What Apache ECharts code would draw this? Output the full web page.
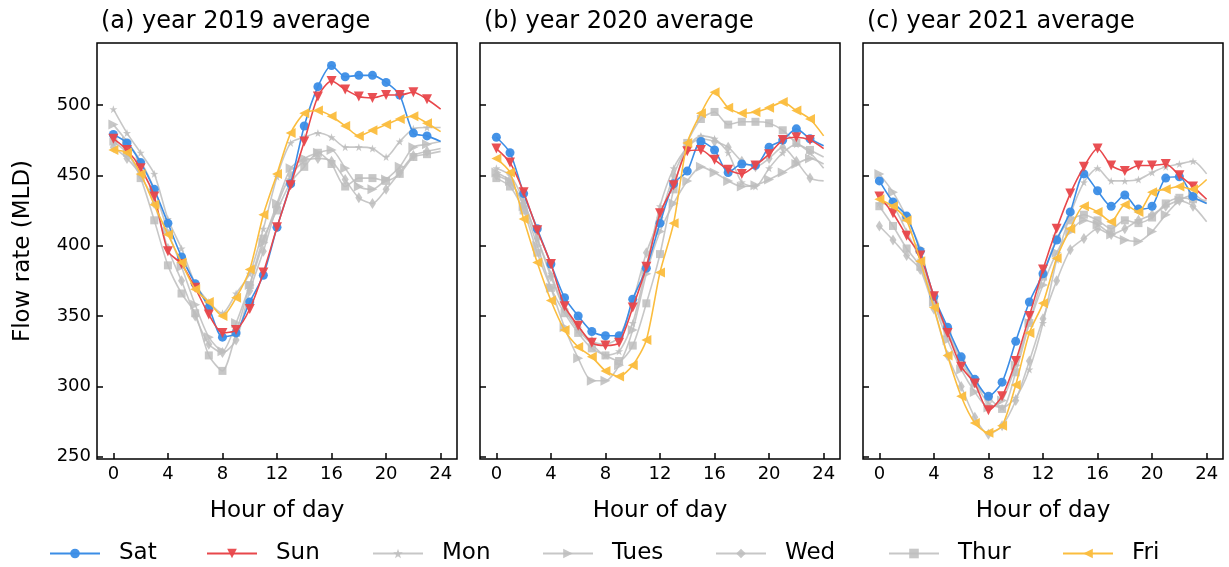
<!DOCTYPE html>
<html>
<head>
<meta charset="utf-8">
<script src="https://cdn.jsdelivr.net/npm/echarts@6/dist/echarts.min.js"></script>
<style>
    html, body {margin: 0; padding: 0; background: #fff;}
    #chart {width: 1229px; height: 567px;}
</style>
</head>
<body>
<div id="chart"></div>
<script>
// hour of day, last point is the line end (no marker)
const hours = [0, 1, 2, 3, 4, 5, 6, 7, 8, 9, 10, 11, 12, 13, 14, 15, 16, 17, 18, 19, 20, 21, 22, 23, 24];
const xTicks = [0, 4, 8, 12, 16, 20, 24];
const yTicks = [250, 300, 350, 400, 450, 500];
const days = ['Sat', 'Sun', 'Mon', 'Tues', 'Wed', 'Thur', 'Fri'];
const panelTitles = ['(a) year 2019 average', '(b) year 2020 average', '(c) year 2021 average'];

// 2019
const sat2019 = [479, 473, 459, 440, 416, 392, 373, 356, 335, 338, 360, 379, 413, 444, 485, 513, 528, 520, 521, 521, 516, 507, 480, 478, 474];
const sun2019 = [476, 468, 455, 435, 396, 387, 370, 351, 338, 340, 355, 381, 413, 443, 474, 506, 517, 511, 506, 505, 507, 507, 509, 504, 497];
const mon2019 = [497, 480, 466, 451, 419, 398, 373, 360, 352, 366, 380, 412, 449, 473, 477, 480, 477, 470, 470, 469, 463, 474, 483, 484, 484];
const tues2019 = [486, 474, 460, 440, 410, 385, 358, 335, 325, 345, 372, 402, 430, 455, 462, 466, 468, 455, 442, 440, 447, 456, 470, 472, 474];
const wed2019 = [470, 462, 450, 430, 398, 375, 350, 330, 324, 333, 368, 396, 428, 450, 460, 462, 460, 447, 434, 430, 440, 452, 464, 467, 469];
const thur2019 = [474, 466, 448, 418, 386, 366, 352, 322, 311, 338, 372, 405, 425, 445, 456, 466, 458, 442, 448, 448, 446, 451, 463, 465, 467];
const fri2019 = [468, 466, 451, 429, 408, 388, 369, 360, 350, 363, 383, 422, 451, 480, 494, 496, 492, 485, 478, 482, 486, 490, 492, 487, 481];

// 2020
const sat2020 = [477, 466, 437, 412, 387, 363, 350, 339, 336, 336, 362, 384, 416, 444, 453, 474, 468, 452, 458, 457, 470, 475, 483, 476, 471];
const sun2020 = [469, 459, 438, 411, 387, 357, 343, 331, 329, 331, 356, 385, 423, 443, 467, 468, 461, 454, 451, 457, 465, 475, 477, 475, 469];
const mon2020 = [455, 450, 432, 405, 380, 355, 340, 330, 322, 325, 345, 385, 428, 455, 470, 478, 476, 466, 445, 442, 455, 466, 472, 466, 455];
const tues2020 = [452, 446, 428, 400, 370, 342, 320, 304, 304, 315, 340, 380, 410, 430, 446, 456, 452, 446, 442, 443, 447, 452, 458, 462, 458];
const wed2020 = [450, 445, 430, 405, 378, 355, 342, 332, 330, 335, 360, 395, 420, 450, 470, 476, 474, 470, 460, 456, 462, 470, 460, 448, 446];
const thur2020 = [448, 442, 425, 395, 370, 352, 338, 327, 322, 318, 329, 359, 394, 440, 473, 490, 495, 486, 488, 488, 487, 482, 473, 468, 463];
const fri2020 = [462, 452, 419, 388, 361, 340, 328, 321, 311, 307, 315, 333, 381, 416, 473, 494, 509, 498, 494, 495, 498, 502, 496, 490, 478];

// 2021
const sat2021 = [446, 431, 421, 396, 364, 342, 321, 305, 293, 303, 332, 360, 380, 404, 424, 451, 439, 428, 436, 426, 428, 448, 449, 435, 430];
const sun2021 = [435, 423, 407, 393, 364, 338, 314, 302, 283, 293, 318, 350, 383, 412, 437, 456, 469, 457, 453, 457, 457, 458, 450, 442, 433];
const mon2021 = [430, 428, 410, 390, 362, 340, 320, 303, 288, 285, 292, 312, 345, 390, 422, 445, 455, 446, 446, 447, 452, 456, 458, 460, 451];
const tues2021 = [451, 438, 420, 398, 360, 333, 312, 296, 285, 290, 315, 345, 372, 395, 410, 418, 415, 408, 404, 403, 410, 422, 432, 436, 430];
const wed2021 = [414, 404, 393, 383, 355, 322, 300, 278, 266, 272, 290, 318, 348, 375, 397, 405, 412, 408, 412, 418, 422, 428, 432, 428, 417];
const thur2021 = [428, 414, 398, 385, 360, 338, 318, 302, 292, 284, 310, 345, 378, 405, 418, 422, 418, 412, 418, 416, 420, 430, 434, 433, 432];
const fri2021 = [433, 428, 418, 389, 356, 322, 293, 274, 267, 272, 301, 338, 359, 391, 412, 428, 424, 417, 429, 424, 438, 440, 442, 440, 447];

const panels = [
    [sat2019, sun2019, mon2019, tues2019, wed2019, thur2019, fri2019],
    [sat2020, sun2020, mon2020, tues2020, wed2020, thur2020, fri2020],
    [sat2021, sun2021, mon2021, tues2021, wed2021, thur2021, fri2021]
];

const font = 'DejaVu Sans';
const gray = '#bdbdbd';
const starPath = 'path://M0,-10L2.35,-3.24L9.51,-3.09L3.8,1.24L5.88,8.09L0,4L-5.88,8.09L-3.8,1.24L-9.51,-3.09L-2.35,-3.24Z';

// marker look per day
const dayStyle = {
    Sat: {color: '#3b8de6', symbol: 'circle', size: 9, rotate: 0, z: 5},
    Sun: {color: '#e8474b', symbol: 'triangle', size: 10, rotate: 180, z: 6},
    Mon: {color: gray, symbol: starPath, size: 8, rotate: 0, z: 2},
    Tues: {color: gray, symbol: 'triangle', size: 10, rotate: -90, z: 2},
    Wed: {color: gray, symbol: 'diamond', size: [7, 11], rotate: 0, z: 2},
    Thur: {color: gray, symbol: 'rect', size: 8, rotate: 0, z: 2},
    Fri: {color: '#fbbd3e', symbol: 'triangle', size: 10, rotate: 90, z: 7}
};

const gridLefts = [97, 480, 863];

const grids = gridLefts.map(left => ({
    left: left, top: 43, width: 360, height: 416,
    show: true, borderColor: '#000', borderWidth: 1.5, backgroundColor: 'transparent'
}));

const xAxes = gridLefts.map((l, i) => ({
    type: 'value', gridIndex: i, min: -1.2, max: 25.2,
    name: 'Hour of day', nameLocation: 'middle', nameGap: 41,
    nameTextStyle: {fontFamily: font, fontSize: 23, color: '#000'},
    splitLine: {show: false},
    axisLine: {show: false, onZero: false},
    axisTick: {show: true, inside: true, length: 6, customValues: xTicks, lineStyle: {color: '#000', width: 1.5}},
    axisLabel: {customValues: xTicks, fontFamily: font, fontSize: 18, color: '#000', margin: 6}
}));

const yAxes = gridLefts.map((l, i) => ({
    type: 'value', gridIndex: i, min: 248.4, max: 544,
    name: i === 0 ? 'Flow rate (MLD)' : '', nameLocation: 'middle', nameGap: 62,
    nameTextStyle: {fontFamily: font, fontSize: 23, color: '#000'},
    splitLine: {show: false},
    axisLine: {show: false, onZero: false},
    axisTick: {show: true, inside: true, length: 6, customValues: yTicks, lineStyle: {color: '#000', width: 1.5}},
    axisLabel: {show: i === 0, customValues: yTicks, fontFamily: font, fontSize: 18, color: '#000', margin: 6}
}));

const series = [];
panels.forEach((vals, p) => {
    days.forEach((d, k) => {
        const st = dayStyle[d];
        series.push({
            name: d, type: 'line', xAxisIndex: p, yAxisIndex: p,
            data: hours.map((h, i) => i === hours.length - 1
                ? {value: [h, vals[k][i]], symbol: 'none'}
                : [h, vals[k][i]]),
            smooth: 0.25,
            symbol: st.symbol, symbolSize: st.size, symbolRotate: st.rotate,
            showAllSymbol: true,
            z: st.z,
            lineStyle: {color: st.color, width: 1.6, opacity: st.color === gray ? 0.85 : 1},
            itemStyle: {color: st.color, opacity: st.color === gray ? 0.85 : 0.95},
            emphasis: {disabled: true},
            animation: false
        });
    });
});

const legendLefts = [44, 201, 367, 537, 710, 883, 1057];
const legends = days.map((d, k) => ({
    data: [d], left: legendLefts[k], top: 537,
    itemWidth: 50, itemHeight: 12,
    textStyle: {fontFamily: font, fontSize: 23, color: '#000', padding: [0, 0, 0, 14]}
}));

const chart = echarts.init(document.getElementById('chart'), null, {renderer: 'canvas'});
chart.setOption({
    backgroundColor: '#fff',
    animation: false,
    title: panelTitles.map((t, i) => ({
        text: t, left: gridLefts[i] - 1, top: 5,
        textStyle: {fontFamily: font, fontSize: 24, fontWeight: 'normal', color: '#000'}
    })),
    legend: legends,
    grid: grids,
    xAxis: xAxes,
    yAxis: yAxes,
    series: series
});
</script>
</body>
</html>
